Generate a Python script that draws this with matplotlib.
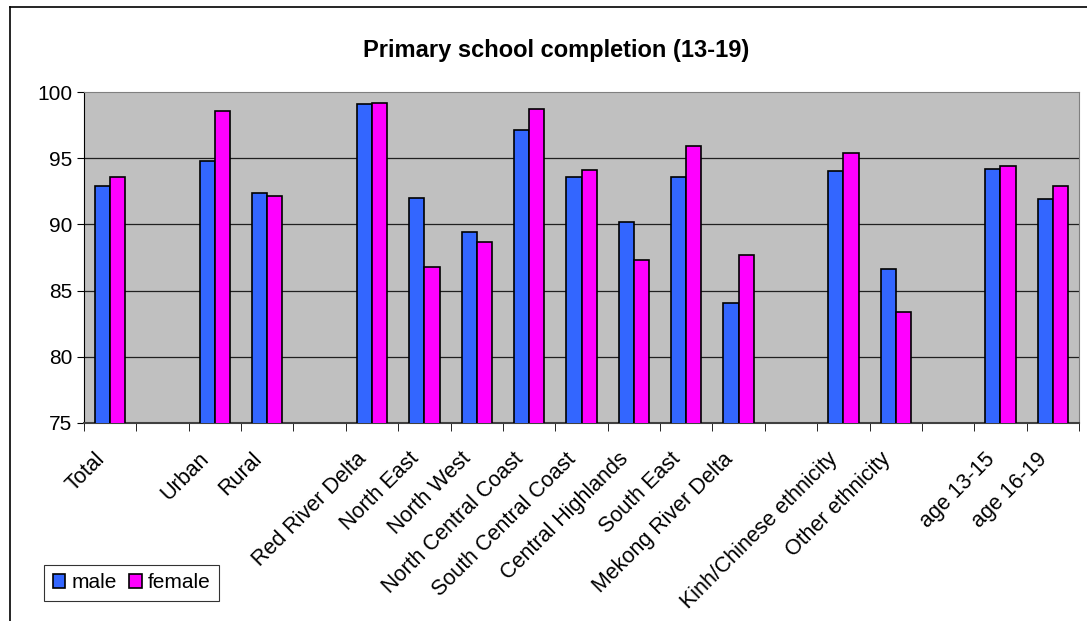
import matplotlib
matplotlib.use("Agg")
import matplotlib.pyplot as plt
from matplotlib.lines import Line2D
from matplotlib.transforms import ScaledTranslation
import numpy as np

plt.rcParams['font.family'] = ['Liberation Sans', 'DejaVu Sans']

# categories (empty strings are the gaps between groups)
categories = ['Total', '', 'Urban', 'Rural', '', 'Red River Delta', 'North East',
              'North West', 'North Central Coast', 'South Central Coast',
              'Central Highlands', 'South East', 'Mekong River Delta', '',
              'Kinh/Chinese ethnicity', 'Other ethnicity', '', 'age 13-15', 'age 16-19']
male = [92.9, None, 94.8, 92.4, None, 99.1, 92.0, 89.4, 97.1, 93.6,
        90.2, 93.6, 84.1, None, 94.0, 86.6, None, 94.2, 91.9]
female = [93.6, None, 98.6, 92.15, None, 99.2, 86.8, 88.7, 98.7, 94.1,
          87.3, 95.9, 87.7, None, 95.4, 83.4, None, 94.4, 92.9]

fig = plt.figure(figsize=(10.87, 6.21), dpi=100)
ax = fig.add_axes([84 / 1087, 1 - 423 / 621, (1079 - 84) / 1087, (423 - 92) / 621])

x = np.arange(len(categories))
m = np.array([np.nan if v is None else v for v in male])
f = np.array([np.nan if v is None else v for v in female])
w = 0.29
ax.bar(x - w / 2, m, w, color='#3366FF', edgecolor='black', linewidth=1.2,
       label='male', zorder=3)
ax.bar(x + w / 2, f, w, color='#FF00FF', edgecolor='black', linewidth=1.2,
       label='female', zorder=3)

ax.set_facecolor('#C0C0C0')
ax.set_ylim(75, 100)
ax.set_xlim(-0.5, len(categories) - 0.5)
ax.set_yticks([75, 80, 85, 90, 95, 100])
ax.tick_params(axis='y', labelsize=15, length=5, direction='out', color='black')
for yv in [80, 85, 90, 95]:
    ax.axhline(yv, color='#202020', linewidth=0.9, zorder=1)

# labels at the centres, tick marks on the boundaries
ax.set_xticks(x)
ax.set_xticklabels(categories, rotation=45, ha='right', va='top',
                   rotation_mode='anchor', fontsize=15.5)
ax.tick_params(axis='x', which='major', length=0, pad=9)
ax.set_xticks(np.arange(-0.5, len(categories)), minor=True)
ax.tick_params(axis='x', which='minor', length=6, direction='out', color='black')
# nudge the slanted labels a little down-left, as in the reference
shift = ScaledTranslation(-16 / 100, -13 / 100, fig.dpi_scale_trans)
for lbl in ax.get_xticklabels():
    lbl.set_transform(lbl.get_transform() + shift)

for s in ['top', 'right']:
    ax.spines[s].set_color('#808080')
ax.spines['left'].set_color('black')
ax.spines['bottom'].set_color('#404040')
ax.spines['bottom'].set_linewidth(1.5)

fig.text(0.512, 1 - 50 / 621, 'Primary school completion (13-19)',
         ha='center', va='center', fontsize=17, fontweight='bold')

leg = fig.legend(loc='lower left', bbox_to_anchor=(34 / 1087, 10 / 621), ncol=2,
                 fontsize=15, frameon=True, fancybox=False, edgecolor='black',
                 handlelength=0.6, handleheight=0.6, handletextpad=0.3,
                 columnspacing=0.6, borderpad=0.4)
leg.get_frame().set_linewidth(0.8)

# outer chart frame
fig.add_artist(Line2D([10 / 1087, 10 / 1087], [0, 1 - 7 / 621], color='black', linewidth=1.2))
fig.add_artist(Line2D([10 / 1087, 1], [1 - 7 / 621, 1 - 7 / 621], color='black', linewidth=1.2))

fig.savefig('out.png', dpi=100)
